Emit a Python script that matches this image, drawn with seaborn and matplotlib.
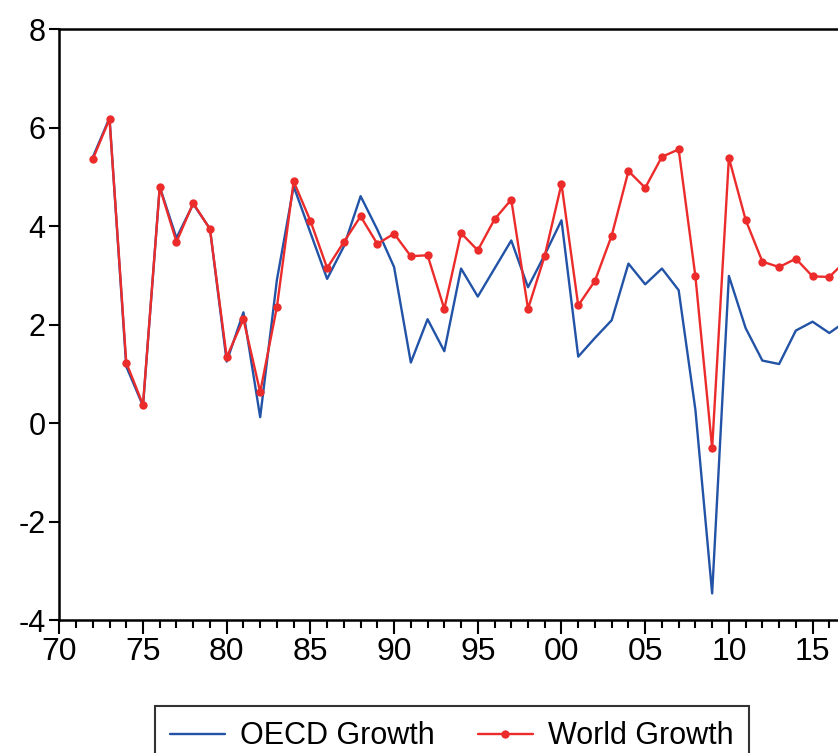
import numpy as np
import pandas as pd
import matplotlib
matplotlib.use("Agg")
import matplotlib.pyplot as plt
from matplotlib.ticker import FixedLocator, MultipleLocator, FuncFormatter
from matplotlib.lines import Line2D
import seaborn as sns

# annual growth rates, 1972-2017
years = list(range(1972, 2018))
oecd_growth = [5.40, 6.20, 1.15, 0.35, 4.80, 3.76, 4.45, 3.95, 1.25, 2.25,
               0.12, 2.91, 4.81, 3.87, 2.93, 3.59, 4.61, 3.93, 3.17, 1.23,
               2.11, 1.46, 3.14, 2.57, 3.14, 3.71, 2.76, 3.42, 4.12, 1.35,
               1.73, 2.09, 3.24, 2.82, 3.14, 2.70, 0.27, -3.46, 2.99, 1.93,
               1.27, 1.20, 1.88, 2.06, 1.83, 2.07]
world_growth = [5.36, 6.18, 1.23, 0.37, 4.79, 3.68, 4.47, 3.94, 1.34, 2.11,
                0.63, 2.36, 4.91, 4.11, 3.15, 3.68, 4.20, 3.64, 3.85, 3.39,
                3.41, 2.32, 3.86, 3.51, 4.14, 4.54, 2.32, 3.40, 4.86, 2.39,
                2.89, 3.81, 5.12, 4.78, 5.41, 5.56, 2.98, -0.51, 5.39, 4.13,
                3.28, 3.17, 3.34, 2.98, 2.97, 3.30]
series_names = ["OECD Growth", "World Growth"]
y_ticks = [-4, -2, 0, 2, 4, 6, 8]

df = pd.DataFrame({"year": years, "OECD Growth": oecd_growth, "World Growth": world_growth})

sns.set_style("ticks")
plt.rcParams["font.family"] = ["Liberation Sans", "DejaVu Sans"]
plt.rcParams["axes.unicode_minus"] = False
plt.rcParams["text.color"] = "black"
plt.rcParams["xtick.color"] = "black"
plt.rcParams["ytick.color"] = "black"

blue = "#2253a6"
red = "#ec2b2b"

fig = plt.figure(figsize=(8.38, 7.53), dpi=100)
W, H = 838, 753
ax = fig.add_axes([59.3 / W, 133 / H, (862.8 - 59.3) / W, (620 - 29.3) / H])

sns.lineplot(data=df, x="year", y="OECD Growth", ax=ax, color=blue, linewidth=1.7)
sns.lineplot(data=df, x="year", y="World Growth", ax=ax, color=red, linewidth=1.7,
             marker="o", markersize=6, markeredgewidth=0)

ax.set_xlim(1970, 2018)
ax.set_ylim(-4, 8)
ax.xaxis.set_major_locator(MultipleLocator(5))
ax.xaxis.set_minor_locator(MultipleLocator(1))
ax.xaxis.set_major_formatter(FuncFormatter(lambda v, p: f"{int(round(v)) % 100:02d}"))
ax.yaxis.set_major_locator(FixedLocator(y_ticks))
ax.set_xlabel("")
ax.set_ylabel("")

for s in ax.spines.values():
    s.set_linewidth(1.8)
    s.set_color("black")
ax.tick_params(axis="x", which="major", length=10, width=1.5, labelsize=23, pad=2,
               direction="out", labelcolor="black")
ax.tick_params(axis="x", which="minor", length=6, width=1.5, direction="out")
ax.tick_params(axis="y", which="major", length=7, width=1.5, labelsize=22, pad=3,
               direction="out", labelcolor="black")

handles = [Line2D([], [], color=blue, linewidth=1.7),
           Line2D([], [], color=red, linewidth=1.7, marker="o", markersize=6, markeredgewidth=0)]
leg = fig.legend(handles, series_names, loc="upper center", bbox_to_anchor=(452 / W, 1 - 706 / H),
                 ncol=2, fontsize=22, frameon=True, fancybox=False, handlelength=1.8,
                 handletextpad=0.5, columnspacing=1.4, borderpad=0.5, borderaxespad=0,
                 numpoints=1, labelcolor="black")
leg.get_frame().set_edgecolor("black")
leg.get_frame().set_linewidth(1.5)

fig.savefig("out.png", dpi=100)
